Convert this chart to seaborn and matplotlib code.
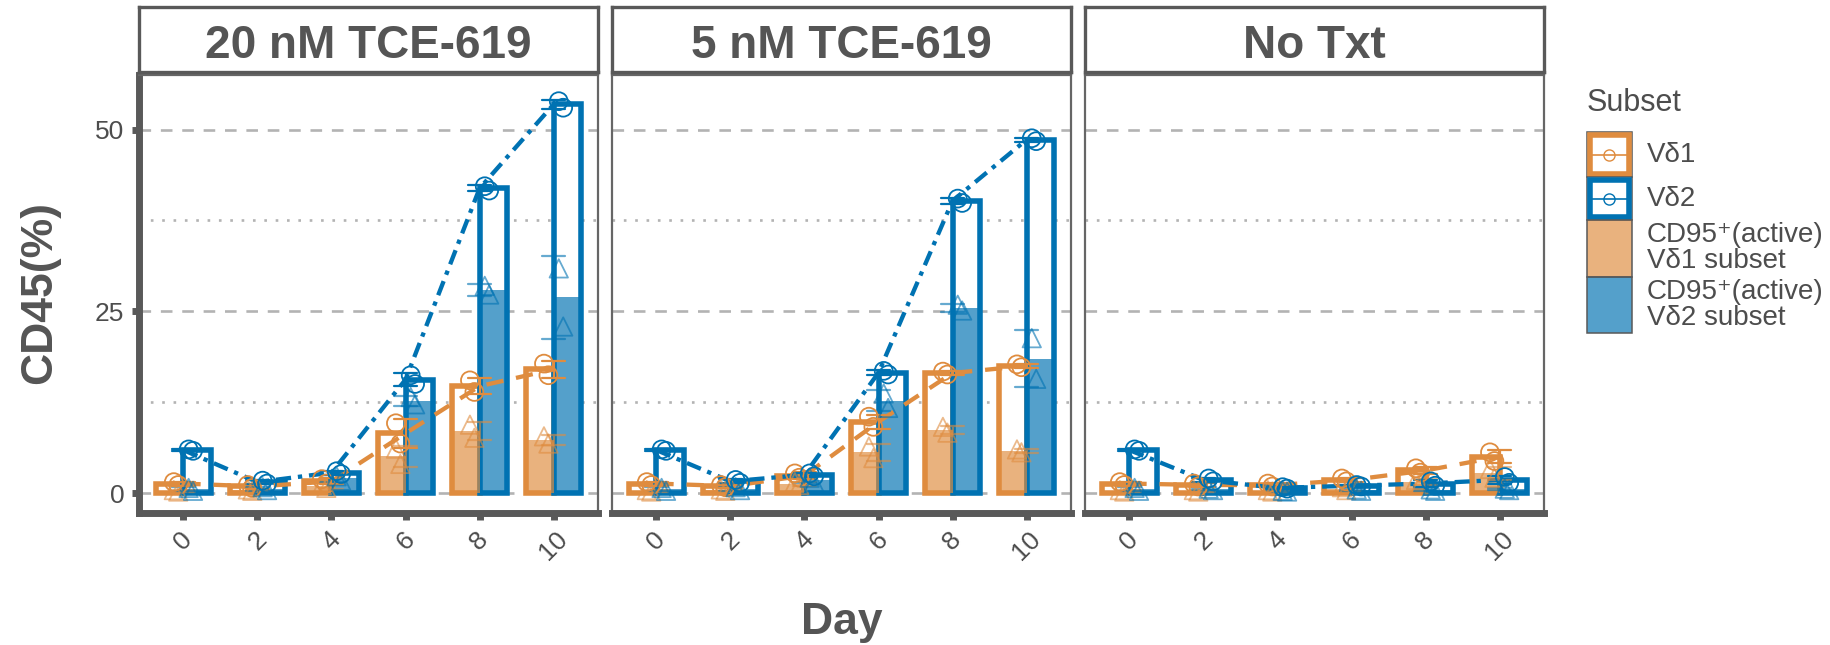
import numpy as np
import pandas as pd
import matplotlib
matplotlib.use("Agg")
import matplotlib.pyplot as plt
from matplotlib.patches import Rectangle
from matplotlib.colors import to_rgba
import seaborn as sns

# ---------------- data ----------------
days = [0, 2, 4, 6, 8, 10]
day_labels = [str(d) for d in days]
treatments = ["20 nM TCE-619", "5 nM TCE-619", "No Txt"]
subsets = ["Vδ1", "Vδ2"]
legend_labels = ["Vδ1", "Vδ2", "CD95\u207a(active)\nVδ1 subset", "CD95\u207a(active)\nVδ2 subset"]

# replicate values (two per day), % of CD45
vd1_total_20 = [[1.5, 1.1], [1.1, 0.7], [1.9, 1.3], [9.6, 6.8], [15.5, 13.9], [17.8, 16.2]]
vd1_cd95_20 = [[0.4, 0.2], [0.5, 0.3], [1.1, 0.7], [6.1, 4.0], [9.4, 7.6], [7.8, 6.8]]
vd2_total_20 = [[6.0, 5.8], [1.7, 1.3], [3.0, 2.6], [16.2, 15.0], [42.2, 41.6], [53.9, 53.0]]
vd2_cd95_20 = [[0.7, 0.3], [0.8, 0.4], [2.3, 1.7], [13.2, 12.2], [28.5, 27.3], [30.9, 22.9]]

vd1_total_5 = [[1.5, 1.1], [1.1, 0.8], [2.7, 2.1], [10.5, 9.1], [16.7, 16.3], [17.7, 17.3]]
vd1_cd95_5 = [[0.4, 0.2], [0.5, 0.3], [1.5, 1.1], [6.4, 4.8], [9.1, 8.3], [6.0, 5.6]]
vd2_total_5 = [[6.0, 5.8], [1.8, 1.4], [2.7, 2.3], [16.8, 16.3], [40.5, 39.9], [48.8, 48.4]]
vd2_cd95_5 = [[0.7, 0.3], [0.8, 0.4], [2.1, 1.5], [13.7, 11.7], [25.9, 25.1], [21.3, 15.7]]

vd1_total_no = [[1.5, 1.1], [1.3, 0.9], [1.3, 0.9], [2.0, 1.6], [3.4, 2.8], [5.6, 4.4]]
vd1_cd95_no = [[0.4, 0.2], [0.4, 0.2], [0.4, 0.2], [0.8, 0.4], [1.8, 1.2], [3.3, 2.1]]
vd2_total_no = [[6.0, 5.8], [2.0, 1.6], [0.8, 0.6], [1.1, 0.9], [1.6, 1.0], [2.2, 1.4]]
vd2_cd95_no = [[0.7, 0.3], [0.6, 0.4], [0.3, 0.2], [0.5, 0.3], [0.5, 0.3], [0.6, 0.4]]

series = {
    ("20 nM TCE-619", "Vδ1", "total"): vd1_total_20,
    ("20 nM TCE-619", "Vδ1", "cd95"): vd1_cd95_20,
    ("20 nM TCE-619", "Vδ2", "total"): vd2_total_20,
    ("20 nM TCE-619", "Vδ2", "cd95"): vd2_cd95_20,
    ("5 nM TCE-619", "Vδ1", "total"): vd1_total_5,
    ("5 nM TCE-619", "Vδ1", "cd95"): vd1_cd95_5,
    ("5 nM TCE-619", "Vδ2", "total"): vd2_total_5,
    ("5 nM TCE-619", "Vδ2", "cd95"): vd2_cd95_5,
    ("No Txt", "Vδ1", "total"): vd1_total_no,
    ("No Txt", "Vδ1", "cd95"): vd1_cd95_no,
    ("No Txt", "Vδ2", "total"): vd2_total_no,
    ("No Txt", "Vδ2", "cd95"): vd2_cd95_no,
}
rows = []
for (trt, sub, meas), vals in series.items():
    for d, reps in zip(day_labels, vals):
        for r, v in enumerate(reps):
            rows.append(dict(Treatment=trt, Subset=sub, Measure=meas, Day=d, rep=r, value=v))
df = pd.DataFrame(rows)

# ---------------- style ----------------
sns.set_theme(style="white")
plt.rcParams["font.family"] = ["Liberation Sans", "DejaVu Sans"]

ORANGE = "#DF8C3F"
BLUE = "#0072B2"
pal = {"Vδ1": ORANGE, "Vδ2": BLUE}
FILL_ALPHA = 0.67
GRID = "#B3B3B3"
AXC = "#595959"
TXT = "#4D4D4D"
TXT_DARK = "#555555"

W, H = 1831, 645
fig = plt.figure(figsize=(W / 100, H / 100), dpi=100, facecolor="white")


def fig_rect(x0, y0, x1, y1):
    return [x0 / W, 1 - y1 / H, (x1 - x0) / W, (y1 - y0) / H]


panel_x = [(139, 598), (612, 1071), (1085, 1544)]
P_TOP, P_BOT = 75, 513
day_index = {d: i for i, d in enumerate(day_labels)}
line_styles = {"Vδ1": (0, (4, 3)), "Vδ2": (0, (3.5, 1.6, 1.0, 1.6))}
point_off = {"Vδ1": -0.1, "Vδ2": 0.1}
rep_off = {0: -0.03, 1: 0.03}

for i, (trt, (x0, x1)) in enumerate(zip(treatments, panel_x)):
    ax = fig.add_axes(fig_rect(x0, P_TOP, x1, P_BOT))
    ax.set_facecolor("white")
    d = df[df.Treatment == trt]
    tot = d[d.Measure == "total"]
    cd = d[d.Measure == "cd95"]

    # total bars (outlined)
    sns.barplot(data=tot, x="Day", y="value", hue="Subset", order=day_labels,
                hue_order=subsets, palette=pal, errorbar=None, width=0.75,
                ax=ax, legend=False, zorder=2)
    n0 = len(ax.containers)
    for cont, sub in zip(ax.containers, subsets):
        for p in cont:
            p.set_facecolor("white")
            p.set_edgecolor(pal[sub])
            p.set_linewidth(4.0)
    # CD95+ bars (filled)
    sns.barplot(data=cd, x="Day", y="value", hue="Subset", order=day_labels,
                hue_order=subsets, palette=pal, errorbar=None, width=0.75,
                ax=ax, legend=False, zorder=3)
    for cont, sub in zip(ax.containers[n0:], subsets):
        for p in cont:
            p.set_facecolor(to_rgba(pal[sub], FILL_ALPHA))
            p.set_edgecolor("none")
            p.set_linewidth(0)

    # mean lines
    sns.pointplot(data=tot, x="Day", y="value", hue="Subset", order=day_labels,
                  hue_order=subsets, palette=pal, errorbar=None, markers="",
                  linestyles=[line_styles[s] for s in subsets], dodge=False,
                  ax=ax, legend=False, linewidth=3.1, zorder=4)
    # error bars (mean +/- SD)
    sns.pointplot(data=cd, x="Day", y="value", hue="Subset", order=day_labels,
                  hue_order=subsets, palette=pal, errorbar="sd", capsize=0.3,
                  markers="", linestyles="none", dodge=False, ax=ax, legend=False,
                  err_kws={"linewidth": 1.6, "alpha": 0.6, "zorder": 5})
    sns.pointplot(data=tot, x="Day", y="value", hue="Subset", order=day_labels,
                  hue_order=subsets, palette=pal, errorbar="sd", capsize=0.3,
                  markers="", linestyles="none", dodge=False, ax=ax, legend=False,
                  err_kws={"linewidth": 1.6, "zorder": 5})

    # replicate points
    for sub in subsets:
        s = tot[tot.Subset == sub]
        xs = s.Day.map(day_index) + point_off[sub] + s.rep.map(rep_off)
        ax.scatter(xs, s.value, marker="o", s=165, facecolors="none",
                   edgecolors=pal[sub], linewidths=1.3, zorder=6)
        c = cd[cd.Subset == sub]
        xs = c.Day.map(day_index) + point_off[sub] + c.rep.map(rep_off)
        ax.scatter(xs, c.value, marker="^", s=175, facecolors="none",
                   edgecolors=pal[sub], linewidths=1.3, alpha=0.6, zorder=6)

    # axes cosmetics
    ax.set_xlim(-0.6, 5.6)
    ax.set_ylim(-2.75, 57.5)
    ax.set_xlabel("")
    ax.set_ylabel("")
    ax.set_xticks(range(len(day_labels)))
    ax.set_xticklabels(day_labels, rotation=45, ha="center", va="top")
    ax.set_yticks([0, 25, 50])
    ax.set_yticks([12.5, 37.5], minor=True)
    ax.grid(False)
    ax.yaxis.grid(True, which="major", color=GRID, linewidth=1.9,
                  linestyle=(0, (4.4, 3.7)))
    ax.yaxis.grid(True, which="minor", color=GRID, linewidth=1.9,
                  linestyle=(0, (1, 3.3)))
    ax.set_axisbelow(True)
    ax.tick_params(axis="y", which="minor", length=0, left=False)
    ax.tick_params(axis="x", which="major", length=5, width=5, color=AXC,
                   labelsize=19, labelcolor=TXT, pad=5, bottom=True)
    if i == 0:
        ax.tick_params(axis="y", which="major", length=5, width=5, color=AXC,
                       labelsize=19, labelcolor=TXT, pad=5.5, left=True)
    else:
        ax.tick_params(axis="y", which="major", left=False, labelleft=False)
    for side in ["top", "right"]:
        ax.spines[side].set_linewidth(1.6)
        ax.spines[side].set_color("#666666")
    ax.spines["bottom"].set_linewidth(5)
    ax.spines["bottom"].set_color(AXC)
    ax.spines["left"].set_linewidth(5 if i == 0 else 1.6)
    ax.spines["left"].set_color(AXC if i == 0 else "#666666")
    for sp in ax.spines.values():
        sp.set_capstyle("projecting")
        sp.set_zorder(7)

    # strip
    sax = fig.add_axes(fig_rect(x0, 7, x1, 72))
    sax.set_facecolor("white")
    sax.set_xticks([])
    sax.set_yticks([])
    for sp in sax.spines.values():
        sp.set_linewidth(2.4)
        sp.set_color(AXC)
    sax.text(0.5, 0.215, trt, ha="center", va="baseline", fontsize=33,
             fontweight="bold", color=TXT_DARK, transform=sax.transAxes)

# axis titles
fig.text(40 / W, 1 - 293 / H, "CD45(%)", rotation=90, ha="center", va="center",
         fontsize=32, fontweight="bold", color=TXT_DARK)
fig.text(842 / W, 1 - 634 / H, "Day", ha="center", va="baseline",
         fontsize=32, fontweight="bold", color=TXT_DARK)

# legend (drawn in pixel coordinates)
lax = fig.add_axes([0, 0, 1, 1], zorder=10)
lax.set_xlim(0, W)
lax.set_ylim(H, 0)
lax.axis("off")
lax.text(1587, 103, "Subset", ha="left", va="center", fontsize=22, color=TXT)
kx, kw = 1587, 45
key_rows = [(132, 177), (177, 220), (220, 277), (277, 333)]
key_colors = [ORANGE, BLUE, ORANGE, BLUE]
for k, ((ky0, ky1), col, lab) in enumerate(zip(key_rows, key_colors, legend_labels)):
    kh = ky1 - ky0
    cy = (ky0 + ky1) / 2
    if k < 2:
        lax.add_patch(Rectangle((kx, ky0), kw, kh, facecolor="white",
                                edgecolor=AXC, linewidth=1.1))
        lax.add_patch(Rectangle((kx + 3.4, ky0 + 3.4), kw - 6.8, kh - 6.8,
                                facecolor="white", edgecolor=col, linewidth=4.0))
        lax.plot([kx + 5, kx + kw - 5], [cy, cy], color=col, linewidth=1.2)
        lax.plot([kx + kw / 2], [cy], marker="o", markersize=8, markerfacecolor="none",
                 markeredgecolor=col, markeredgewidth=1.0)
    else:
        lax.add_patch(Rectangle((kx, ky0), kw, kh, facecolor=to_rgba(col, FILL_ALPHA),
                                edgecolor=AXC, linewidth=1.1))
    lax.text(1647, cy, lab, ha="left", va="center", fontsize=20, color=TXT,
             linespacing=1.0)

fig.savefig("out.png", dpi=100, facecolor="white")
